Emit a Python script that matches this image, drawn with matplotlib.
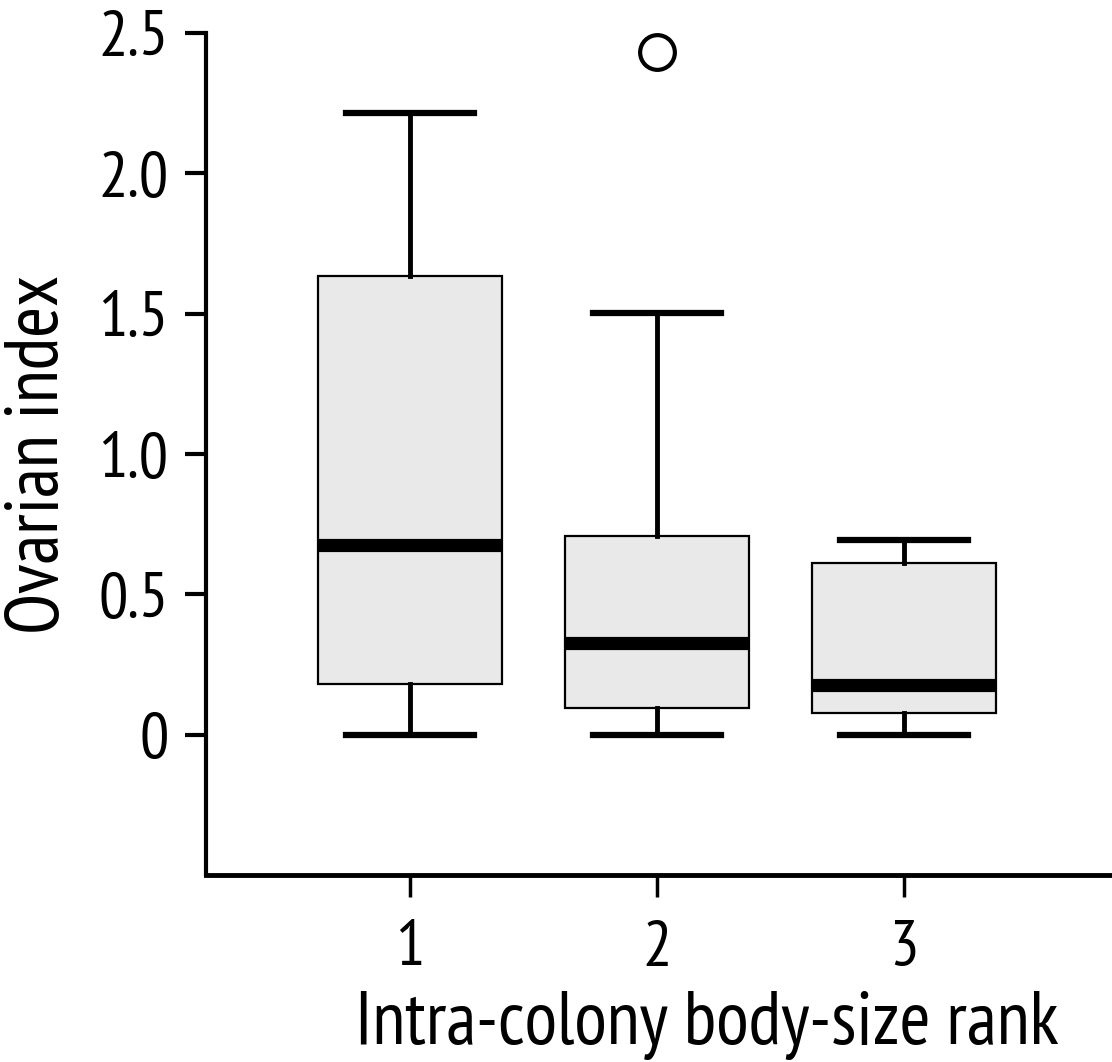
import matplotlib
matplotlib.use('Agg')
import matplotlib.pyplot as plt
from matplotlib import font_manager

# box plot summary per body-size rank
ranks = [1, 2, 3]
q1 = [0.18, 0.096, 0.078]
medians = [0.677, 0.328, 0.178]
q3 = [1.635, 0.709, 0.613]
whisker_lo = [0.0, 0.0, 0.0]
whisker_hi = [2.215, 1.503, 0.694]
outliers = [[], [2.432], []]

yticks = [0, 0.5, 1.0, 1.5, 2.0, 2.5]
ytick_labels = ['0', '0.5', '1.0', '1.5', '2.0', '2.5']

# pick a condensed sans face if one is around
names = {f.name for f in font_manager.fontManager.ttflist}
family = 'Liberation Sans'
for cand in ['PT Sans Narrow', 'Roboto Condensed', 'Open Sans Condensed',
             'Fira Sans Condensed', 'Encode Sans Condensed', 'Archivo Narrow',
             'Liberation Sans Narrow']:
    if cand in names:
        family = cand
        break
plt.rcParams['font.family'] = [family, 'DejaVu Sans']

fig = plt.figure(figsize=(11.12, 10.62), dpi=100)
ax = fig.add_axes([0.1853, 0.176, 0.8147, 0.793])

stats = []
for i in range(len(ranks)):
    stats.append({'q1': q1[i], 'med': medians[i], 'q3': q3[i],
                  'whislo': whisker_lo[i], 'whishi': whisker_hi[i],
                  'fliers': outliers[i], 'label': str(ranks[i])})

ax.bxp(stats, positions=ranks, widths=0.745, patch_artist=True,
       boxprops=dict(facecolor='#e9e9e9', edgecolor='black', linewidth=1.6),
       medianprops=dict(color='black', linewidth=9.5, solid_capstyle='butt'),
       whiskerprops=dict(color='black', linewidth=3.5),
       capprops=dict(color='black', linewidth=4.5),
       capwidths=0.515,
       flierprops=dict(marker='o', markersize=25, markerfacecolor='none',
                       markeredgecolor='black', markeredgewidth=3))

ax.set_xlim(0.174, 3.842)
ax.set_ylim(-0.5, 2.5)
ax.set_yticks(yticks)
ax.set_yticklabels(ytick_labels)
ax.set_xticks(ranks)
ax.set_xticklabels([str(r) for r in ranks])

for side in ['top', 'right']:
    ax.spines[side].set_visible(False)
ax.spines['left'].set_linewidth(3)
ax.spines['bottom'].set_linewidth(3.5)

ax.tick_params(axis='y', direction='out', length=15, width=3, pad=12, labelsize=47)
ax.tick_params(axis='x', direction='out', length=16, width=2.5, pad=16, labelsize=47)

ax.set_ylabel('Ovarian index', fontsize=54, va='center')
ax.set_xlabel('Intra-colony body-size rank', fontsize=54, va='center')
ax.yaxis.set_label_coords(-0.185, 0.5)
ax.xaxis.set_label_coords(0.553, -0.179)

plt.savefig('out.png', dpi=100)
